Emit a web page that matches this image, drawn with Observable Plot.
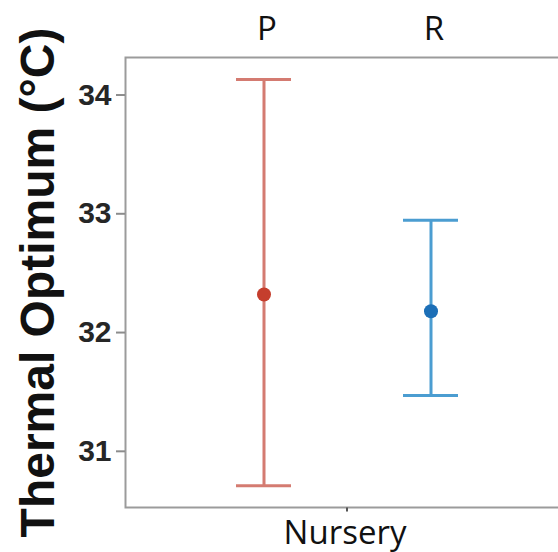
<!DOCTYPE html>
<html><head><meta charset="utf-8">
<script src="https://cdn.jsdelivr.net/npm/d3@7"></script>
<script src="https://cdn.jsdelivr.net/npm/@observablehq/plot@0.6"></script>
<style>
html,body{margin:0;padding:0;background:#fff;overflow:hidden}
#chart svg{overflow:hidden;display:block}
</style>
</head><body><div id="chart"></div>
<script>
const nurseries = ["P", "R"];
const means = [32.32, 32.18];
const lower = [30.71, 31.47];
const upper = [34.13, 32.945];
const yTicks = [31, 32, 33, 34];
const xTitle = "Nursery";
const yTitle = "Thermal Optimum (°C)";

const data = nurseries.map((n, i) => ({nursery: n, mean: means[i], lo: lower[i], hi: upper[i]}));
const tickSym = {draw(ctx) { ctx.moveTo(0, 0); ctx.lineTo(0, 4); }};

const chart = Plot.plot({
  width: 558, height: 552,
  marginLeft: 125, marginRight: -10, marginTop: 57, marginBottom: 45,
  style: {fontFamily: "'Liberation Sans', Arial, sans-serif", background: "#fff", color: "#222"},
  x: {type: "band", domain: nurseries, paddingInner: 0.672, paddingOuter: 0.6585, axis: null},
  y: {domain: [30.527, 34.316]},
  color: {domain: nurseries, range: ["#d47b71", "#4b9dd1"]},
  marks: [
    Plot.frame({stroke: "#9b9b9b", strokeWidth: 2}),
    Plot.axisY({ticks: yTicks, tickFormat: "d", tickSize: 9, tickPadding: 5, fontSize: 30, fontWeight: "bold",
      stroke: "#8c8c8c", strokeWidth: 2, fill: "#262626", label: null}),
    Plot.axisX({anchor: "top", tickSize: 0, tickPadding: 18, fontSize: 33,
      fontFamily: "'Open Sans', sans-serif", fill: "#111", label: null, dx: 3}),
    Plot.ruleX(data, {x: "nursery", y1: "lo", y2: "hi", stroke: "nursery", strokeWidth: 3}),
    Plot.tickY(data, {x: "nursery", y: "lo", stroke: "nursery", strokeWidth: 3}),
    Plot.tickY(data, {x: "nursery", y: "hi", stroke: "nursery", strokeWidth: 3}),
    Plot.dot(data, {filter: d => d.nursery === "P", x: "nursery", y: "mean", r: 7, fill: "#c53e2d", stroke: null}),
    Plot.dot(data, {filter: d => d.nursery === "R", x: "nursery", y: "mean", r: 7, fill: "#1c6fb7", stroke: null}),
    Plot.dot([xTitle], {x: null, y: null, frameAnchor: "bottom", symbol: tickSym, stroke: "#555", fill: "none", strokeWidth: 2}),
    Plot.text([xTitle], {frameAnchor: "bottom", text: d => d, lineAnchor: "bottom", dy: 36, dx: -2,
      fontSize: 33, fontFamily: "'Open Sans', sans-serif", fill: "#111"}),
    Plot.text([yTitle], {frameAnchor: "left", text: d => d, rotate: -90, textAnchor: "middle", lineAnchor: "bottom", dx: -72,
      fontSize: 48, fontWeight: "bold", fill: "#111"})
  ]
});
document.getElementById("chart").appendChild(chart);
</script>
</body></html>
